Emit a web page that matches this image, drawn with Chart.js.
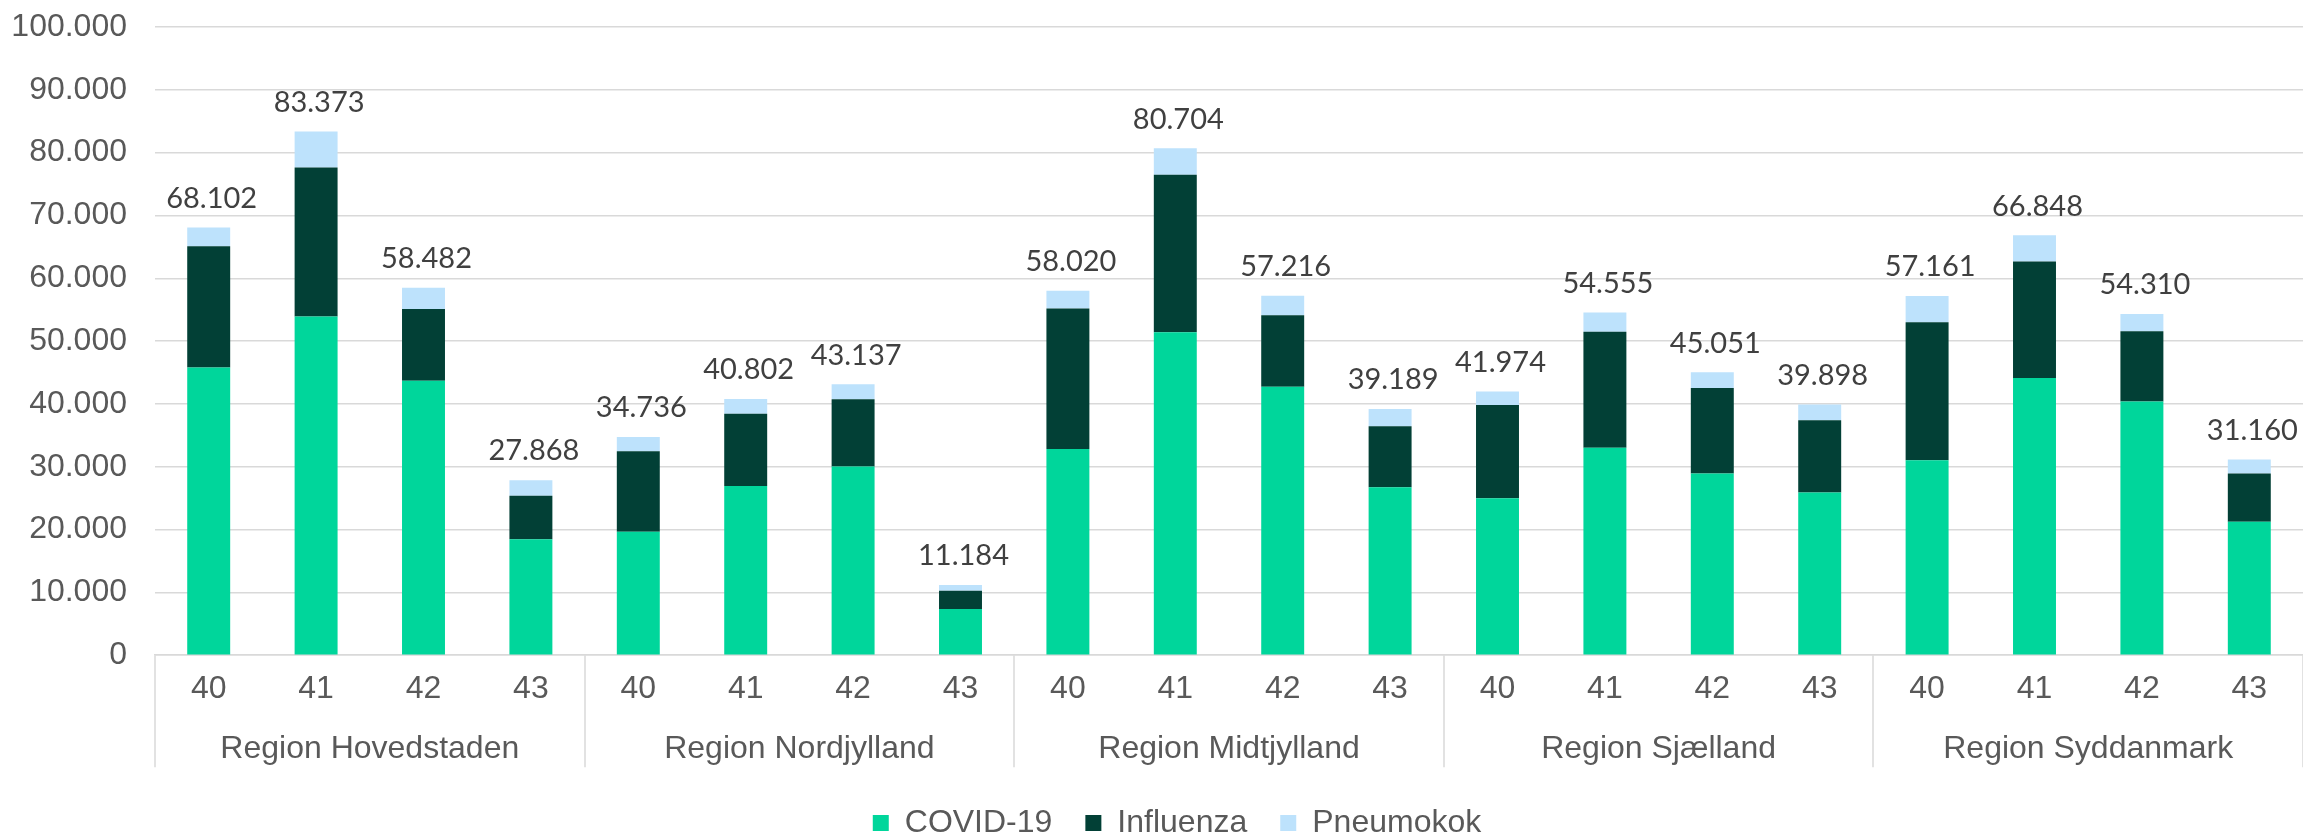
<!DOCTYPE html>
<html>
<head>
<meta charset="utf-8">
<script src="https://cdn.jsdelivr.net/npm/chart.js@4.4.0/dist/chart.umd.min.js"></script>
<style>
  html, body { margin: 0; padding: 0; background: #fff; overflow: hidden; }
  #wrap { width: 2303px; height: 834px; position: relative; }
</style>
</head>
<body>
<div id="wrap"><canvas id="vaccChart"></canvas></div>
<script>
// Data
const regions = ['Region Hovedstaden', 'Region Nordjylland', 'Region Midtjylland', 'Region Sjælland', 'Region Syddanmark'];
const weeks = ['40', '41', '42', '43'];
const covid = [45800, 53900, 43700, 18460, 19640, 26930, 30050, 7360, 32820, 51420, 42750, 26720, 24980, 33030, 28940, 25880, 31020, 44140, 40390, 21240];
const influenza = [19300, 23750, 11400, 6940, 12840, 11520, 10690, 2910, 22350, 25050, 11380, 9710, 14850, 18460, 13600, 11520, 22000, 18520, 11170, 7700];
const pneumokok = [3002, 5723, 3382, 2468, 2256, 2352, 2397, 914, 2850, 4234, 3086, 2759, 2144, 3065, 2511, 2498, 4141, 4188, 2750, 2220];
const yTicks = [0, 10000, 20000, 30000, 40000, 50000, 60000, 70000, 80000, 90000, 100000];

const weekLabels = regions.flatMap(() => weeks);
const totals = covid.map((v, i) => v + influenza[i] + pneumokok[i]);

function fmt(n) {
    return String(n).replace(/\B(?=(\d{3})+(?!\d))/g, '.');
}

const axisFont = { family: "'Liberation Sans', Arial, sans-serif", size: 32 };
const grey = '#D9D9D9';

// vertical separators between the region groups, below the baseline
const groupLines = {
    id: 'groupLines',
    afterLayout(chart) {
        // legend sits a little right of centre in the original
        chart.legend.left += 22;
        chart.legend.right += 22;
    },
    afterDraw(chart) {
        const x = chart.scales.x;
        const area = chart.chartArea;
        const ctx = chart.ctx;
        const half = (x.getPixelForValue(1) - x.getPixelForValue(0)) / 2;
        ctx.save();
        ctx.strokeStyle = grey;
        ctx.lineWidth = 1.5;
        for (let g = 0; g <= regions.length; g++) {
            const px = Math.round(x.getPixelForValue(g * weeks.length) - half);
            ctx.beginPath();
            ctx.moveTo(px, area.bottom);
            ctx.lineTo(px, area.bottom + 112);
            ctx.stroke();
        }
        ctx.restore();
    }
};

// total above each stacked bar
const totalLabels = {
    id: 'totalLabels',
    afterDatasetsDraw(chart) {
        const ctx = chart.ctx;
        const tops = chart.getDatasetMeta(2).data;
        ctx.save();
        ctx.font = "29px Lato, 'Open Sans', sans-serif";
        ctx.fillStyle = '#404040';
        ctx.textAlign = 'center';
        ctx.textBaseline = 'middle';
        totals.forEach((t, i) => {
            ctx.fillText(fmt(t), tops[i].x + 3, tops[i].y - 29);
        });
        ctx.restore();
    }
};

const ctx = document.getElementById('vaccChart').getContext('2d');
new Chart(ctx, {
    type: 'bar',
    data: {
        labels: weekLabels,
        datasets: [
            { label: 'COVID-19', data: covid, backgroundColor: '#00D69B' },
            { label: 'Influenza', data: influenza, backgroundColor: '#024036' },
            { label: 'Pneumokok', data: pneumokok, backgroundColor: '#BDE2FC' }
        ]
    },
    options: {
        responsive: true,
        maintainAspectRatio: false,
        animation: false,
        layout: { padding: { top: 27, left: 0, right: -7, bottom: -15 } },
        datasets: { bar: { categoryPercentage: 1, barPercentage: 0.4 } },
        scales: {
            x: {
                stacked: true,
                weight: 0,
                grid: { display: false, drawTicks: false },
                border: { color: grey, width: 1.5 },
                ticks: { font: axisFont, color: '#595959', padding: 15, maxRotation: 0, autoSkip: false }
            },
            region: {
                type: 'category',
                position: 'bottom',
                labels: regions,
                offset: true,
                weight: 1,
                grid: { display: false, drawTicks: false },
                border: { display: false },
                ticks: { font: axisFont, color: '#595959', padding: 6, maxRotation: 0, autoSkip: false }
            },
            y: {
                stacked: true,
                min: 0,
                max: 100000,
                afterBuildTicks: axis => { axis.ticks = yTicks.map(v => ({ value: v })); },
                afterFit: axis => {
                    axis.width = 155;
                    axis.paddingTop = 0;
                    axis.paddingBottom = 0;
                },
                grid: { color: grey, lineWidth: 1.5, drawTicks: false },
                border: { display: false },
                ticks: { font: axisFont, color: '#595959', padding: 28, callback: v => fmt(v) }
            }
        },
        plugins: {
            legend: {
                position: 'bottom',
                labels: {
                    boxWidth: 16,
                    boxHeight: 16,
                    padding: 33,
                    color: '#595959',
                    font: axisFont
                }
            },
            tooltip: { enabled: false }
        }
    },
    plugins: [groupLines, totalLabels]
});
</script>
</body>
</html>
